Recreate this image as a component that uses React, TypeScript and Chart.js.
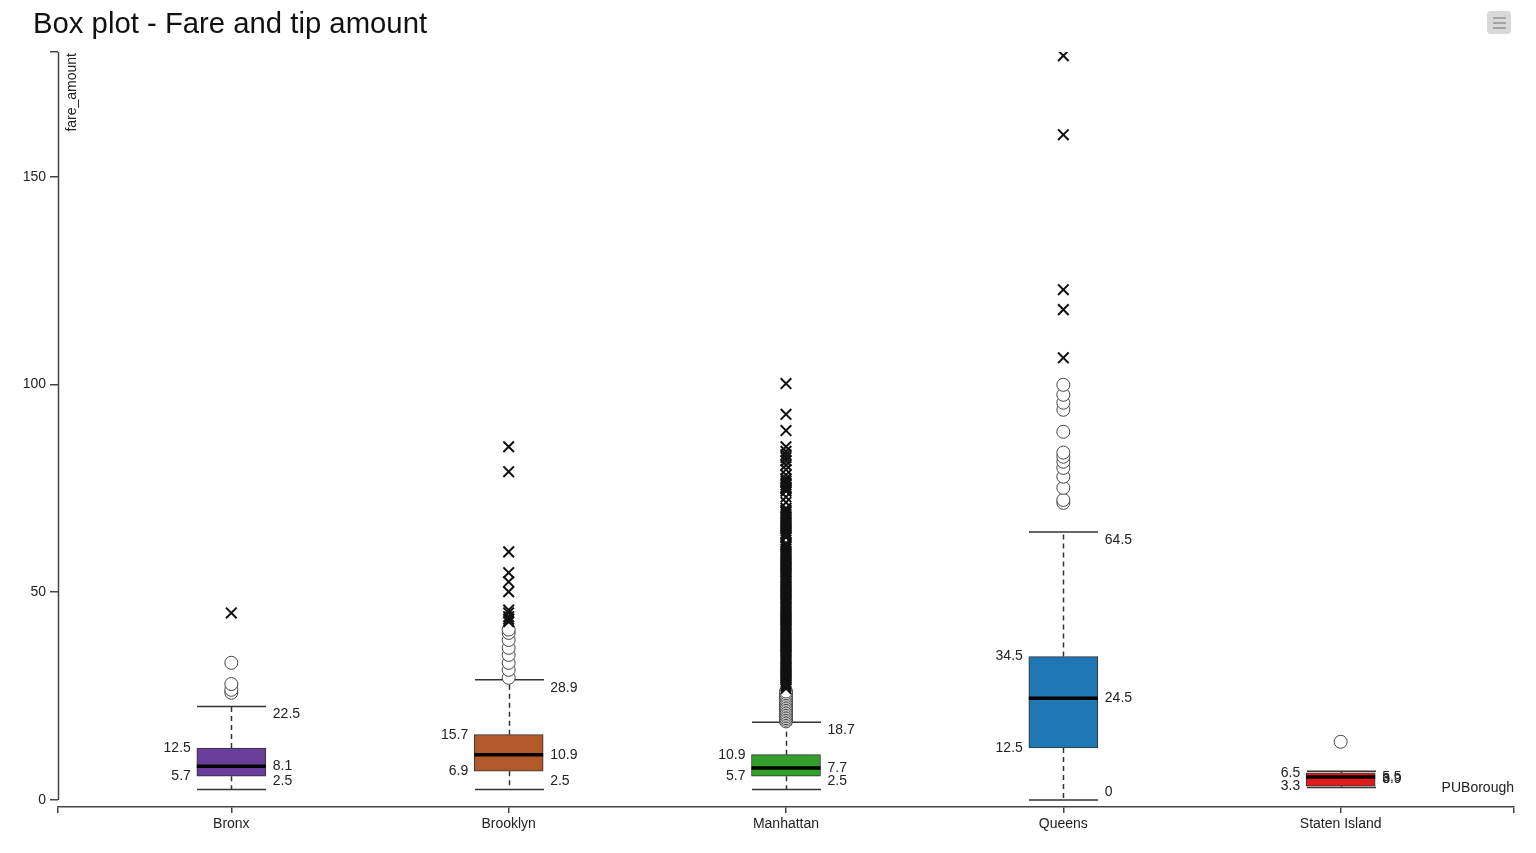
import React, { useEffect, useRef } from 'react';
import { Chart, registerables } from 'chart.js';

Chart.register(...registerables);

// ---- data ----
const categories = ['Bronx', 'Brooklyn', 'Manhattan', 'Queens', 'Staten Island'];
const boxColors = ['#6a3d9a', '#b15928', '#33a02c', '#1f78b4', '#e31a1c'];
const lowerWhisker = [2.5, 2.5, 2.5, 0, 3.0];
const q1 = [5.7, 6.9, 5.7, 12.5, 3.3];
const median = [8.1, 10.9, 7.7, 24.5, 5.5];
const q3 = [12.5, 15.7, 10.9, 34.5, 6.5];
const upperWhisker = [22.5, 28.9, 18.7, 64.5, 6.9];

const bronxMild = [25.8, 26.5, 27.9, 33.0];
const brooklynMild = [29.4, 31.3, 33.0, 34.9, 36.6, 38.5, 40.2, 41.0];
const manhattanMild = [18.9, 19.3, 19.7, 20.1, 20.5, 20.9, 21.3, 21.7, 22.1, 22.5, 22.9, 23.3, 23.7, 24.1, 24.5, 24.9, 25.3, 25.7, 26.1];
const queensMild = [71.5, 72.2, 75.1, 77.8, 79.9, 81.4, 82.6, 83.6, 88.6, 93.9, 95.6, 97.5, 99.9];
const statenMild = [14.0];

const bronxExtreme = [45.0];
const brooklynExtreme = [42.9, 43.5, 44.1, 45.0, 45.7, 50.1, 52.5, 54.7, 59.7, 79.0, 85.0];
const manhattanExtreme = [
  26.8, 27.3, 27.8, 28.3, 28.8, 29.3, 29.8, 30.3, 30.8, 31.3, 31.8, 32.3, 32.8, 33.3, 33.8, 34.3,
  34.8, 35.3, 35.8, 36.3, 36.8, 37.3, 37.8, 38.3, 38.8, 39.3, 39.8, 40.3, 40.8, 41.3, 41.8, 42.3,
  42.8, 43.3, 43.8, 44.3, 44.8, 45.3, 45.8, 46.3, 46.8, 47.3, 47.8, 48.3, 48.8, 49.3, 49.8, 50.3,
  50.8, 51.3, 51.8, 52.3, 52.8, 53.3, 53.8, 54.3, 54.8, 55.3, 55.8, 56.3, 56.8, 57.3, 57.8, 58.3,
  58.8, 59.3, 59.8, 60.3, 60.8, 61.3, 61.8, 63.2, 63.7, 64.2, 64.7, 65.2, 65.7, 66.2, 66.7, 67.2,
  67.7, 68.2, 68.7, 69.2, 69.7, 70.2, 71.6, 72.9, 74.3, 74.8, 75.3, 75.8, 76.3, 76.8, 77.3, 78.2,
  79.5, 80.6, 81.6, 82.4, 83.1, 83.9, 85.0, 88.9, 92.8, 100.2,
];
const queensExtreme = [106.4, 118.0, 122.8, 160.1, 179.1];
const statenExtreme: number[] = [];

const mildOutliers = [bronxMild, brooklynMild, manhattanMild, queensMild, statenMild];
const extremeOutliers = [bronxExtreme, brooklynExtreme, manhattanExtreme, queensExtreme, statenExtreme];

const yTickValues = [0, 50, 100, 150, 180];
const xTickValues = [-0.625, 0, 1, 2, 3, 4, 4.625];

const titleText = 'Box plot - Fare and tip amount';
const yAxisTitle = 'fare_amount';
const xAxisTitle = 'PUBorough';

const FONT = '"Liberation Sans", Arial, Helvetica, sans-serif';
const BOX_W = 69;
const AXIS_COLOR = '#444';

export default function App() {
  const ref = useRef<HTMLCanvasElement>(null);

  useEffect(() => {
    if (!ref.current) return;

    const boxes = categories.map((_, i) => ({ x: i, y: [q1[i], q3[i]] }));
    const mild = mildOutliers.flatMap((arr, i) => arr.map((v) => ({ x: i, y: v })));
    const extreme = extremeOutliers.flatMap((arr, i) => arr.map((v) => ({ x: i, y: v })));

    const boxPlugin = {
      id: 'boxParts',
      beforeDatasetsDraw(chart: any) {
        const ctx = chart.ctx;
        const xs = chart.scales.x;
        const ys = chart.scales.y;
        ctx.save();
        ctx.strokeStyle = '#333';
        ctx.lineWidth = 1.5;
        categories.forEach((_, i) => {
          const cx = Math.round(xs.getPixelForValue(i)) + 0.5;
          const yQ1 = ys.getPixelForValue(q1[i]);
          const yQ3 = ys.getPixelForValue(q3[i]);
          const yLw = ys.getPixelForValue(lowerWhisker[i]);
          const yUw = ys.getPixelForValue(upperWhisker[i]);
          ctx.setLineDash([5, 4]);
          ctx.beginPath();
          ctx.moveTo(cx, yQ3);
          ctx.lineTo(cx, yUw);
          ctx.moveTo(cx, yQ1);
          ctx.lineTo(cx, yLw);
          ctx.stroke();
          ctx.setLineDash([]);
          ctx.beginPath();
          ctx.moveTo(cx - BOX_W / 2, yUw);
          ctx.lineTo(cx + BOX_W / 2, yUw);
          ctx.moveTo(cx - BOX_W / 2, yLw);
          ctx.lineTo(cx + BOX_W / 2, yLw);
          ctx.stroke();
        });
        ctx.restore();
      },
      afterDatasetsDraw(chart: any) {
        const ctx = chart.ctx;
        const xs = chart.scales.x;
        const ys = chart.scales.y;
        ctx.save();
        categories.forEach((_, i) => {
          const cx = xs.getPixelForValue(i);
          const yMed = ys.getPixelForValue(median[i]);
          ctx.strokeStyle = '#000';
          ctx.lineWidth = 3.5;
          ctx.beginPath();
          ctx.moveTo(cx - BOX_W / 2, yMed);
          ctx.lineTo(cx + BOX_W / 2, yMed);
          ctx.stroke();
        });
        ctx.font = `14px ${FONT}`;
        ctx.fillStyle = '#222';
        categories.forEach((_, i) => {
          const cx = xs.getPixelForValue(i);
          const left = cx - BOX_W / 2 - 6;
          const right = cx + BOX_W / 2 + 7;
          ctx.textAlign = 'right';
          ctx.textBaseline = 'middle';
          ctx.fillText(String(q3[i]), left, ys.getPixelForValue(q3[i]));
          ctx.fillText(String(q1[i]), left, ys.getPixelForValue(q1[i]));
          ctx.textAlign = 'left';
          ctx.textBaseline = 'top';
          ctx.fillText(String(upperWhisker[i]), right, ys.getPixelForValue(upperWhisker[i]) + 1);
          ctx.textBaseline = 'middle';
          ctx.fillText(String(median[i]), right, ys.getPixelForValue(median[i]));
          ctx.textBaseline = 'bottom';
          ctx.fillText(String(lowerWhisker[i]), right, ys.getPixelForValue(lowerWhisker[i]) - 1);
        });
        ctx.restore();
      },
      afterDraw(chart: any) {
        const ctx = chart.ctx;
        const ys = chart.scales.y;
        const area = chart.chartArea;
        ctx.save();
        // y axis line
        const ax = Math.floor(area.left) + 0.5;
        ctx.strokeStyle = AXIS_COLOR;
        ctx.lineWidth = 1.5;
        ctx.beginPath();
        ctx.moveTo(ax, ys.getPixelForValue(yTickValues[yTickValues.length - 1]));
        ctx.lineTo(ax, ys.getPixelForValue(0));
        ctx.stroke();
        // title
        ctx.fillStyle = '#111';
        ctx.font = `29.3px ${FONT}`;
        ctx.textAlign = 'left';
        ctx.textBaseline = 'alphabetic';
        ctx.fillText(titleText, 25, 25);
        // y axis title
        ctx.font = `14px ${FONT}`;
        ctx.fillStyle = '#222';
        ctx.translate(area.left + 14, area.top + 1);
        ctx.rotate(-Math.PI / 2);
        ctx.textAlign = 'right';
        ctx.textBaseline = 'middle';
        ctx.fillText(yAxisTitle, 0, 0);
        ctx.restore();
        ctx.save();
        ctx.font = `14px ${FONT}`;
        ctx.fillStyle = '#222';
        ctx.textAlign = 'right';
        ctx.textBaseline = 'middle';
        ctx.fillText(xAxisTitle, area.right, area.bottom - 19);
        ctx.restore();
      },
    };

    const chart = new Chart(ref.current, {
      type: 'bar',
      data: {
        datasets: [
          {
            type: 'scatter',
            data: extreme,
            pointStyle: 'crossRot',
            pointRadius: 7.5,
            pointHoverRadius: 7.5,
            borderColor: '#111',
            backgroundColor: '#111',
            borderWidth: 2,
            order: 0,
          } as any,
          {
            type: 'scatter',
            data: mild,
            pointStyle: 'circle',
            pointRadius: 6.5,
            pointHoverRadius: 6.5,
            backgroundColor: '#fff',
            borderColor: '#444',
            borderWidth: 1,
            order: 1,
          } as any,
          {
            type: 'bar',
            data: boxes,
            backgroundColor: boxColors,
            borderColor: '#333',
            borderWidth: 1,
            borderSkipped: false,
            barThickness: BOX_W,
            order: 2,
          } as any,
        ],
      },
      options: {
        animation: false,
        responsive: true,
        maintainAspectRatio: false,
        layout: { padding: { top: 44, right: 14, left: 0, bottom: 0 } },
        plugins: {
          legend: { display: false },
          tooltip: { enabled: false },
          title: { display: false },
        },
        scales: {
          x: {
            type: 'linear',
            min: xTickValues[0],
            max: xTickValues[xTickValues.length - 1],
            offset: false,
            grid: { display: true, drawOnChartArea: false, offset: false, tickLength: 6, color: AXIS_COLOR, lineWidth: 1.5 },
            border: { display: true, color: AXIS_COLOR, width: 1.5 },
            afterBuildTicks: (s: any) => {
              s.ticks = xTickValues.map((v) => ({ value: v }));
            },
            afterFit: (s: any) => {
              s.height = 38;
            },
            ticks: {
              autoSkip: false,
              maxRotation: 0,
              padding: 3,
              color: '#222',
              font: { family: FONT, size: 14 },
              callback: (v: any) => (Number.isInteger(v) ? categories[v] : ''),
            },
          },
          y: {
            type: 'linear',
            min: -1.7,
            max: 180,
            beginAtZero: false,
            grid: { display: true, drawOnChartArea: false, tickLength: 8, color: AXIS_COLOR, lineWidth: 1.5 },
            border: { display: false },
            afterBuildTicks: (s: any) => {
              s.ticks = yTickValues.map((v) => ({ value: v }));
            },
            afterFit: (s: any) => {
              s.width = 50;
            },
            ticks: {
              padding: 4,
              color: '#222',
              font: { family: FONT, size: 14 },
              callback: (v: any) => (v === 180 ? '' : String(v)),
            },
          },
        },
      } as any,
      plugins: [boxPlugin],
    });
    return () => chart.destroy();
  }, []);

  return (
    <div style={{ position: 'relative', width: 1520, height: 837 }}>
      <canvas ref={ref} />
      <div
        style={{
          position: 'absolute',
          left: 1479,
          top: 3,
          width: 24,
          height: 23,
          background: '#d9d9d9',
          borderRadius: 4,
        }}
      >
        {[6, 11, 16].map((t) => (
          <div
            key={t}
            style={{ position: 'absolute', left: 6, top: t, width: 13, height: 2, background: '#a3a3a3' }}
          />
        ))}
      </div>
    </div>
  );
}
